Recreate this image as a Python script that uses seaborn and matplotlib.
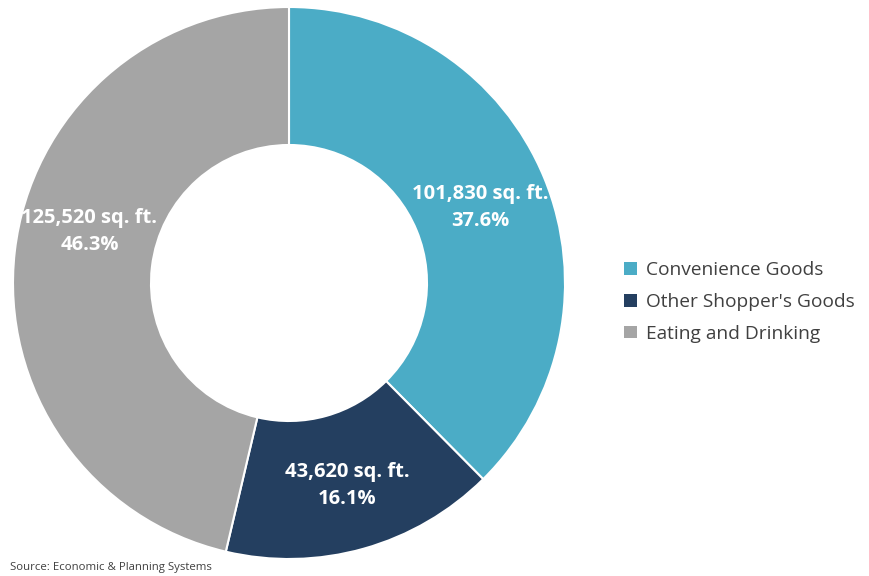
import matplotlib
matplotlib.use("Agg")
import matplotlib.pyplot as plt
import seaborn as sns
from matplotlib.patches import Patch

categories = ["Convenience Goods", "Other Shopper's Goods", "Eating and Drinking"]
sqft = [101830, 43620, 125520]
pct_labels = ["37.6%", "16.1%", "46.3%"]
colors = ["#4BACC6", "#243F60", "#A5A5A5"]

sns.set_theme(style="white")
plt.rcParams['font.family'] = ['Open Sans', 'DejaVu Sans']
palette = sns.color_palette(colors)

fig = plt.figure(figsize=(8.69, 5.76), dpi=100)
ax = fig.add_axes([0, 0, 1, 1])

labels = [f"{v:,} sq. ft.\n{p}" for v, p in zip(sqft, pct_labels)]
wedges, texts = ax.pie(
    sqft, colors=palette, startangle=90, counterclock=False,
    center=(289, 293), radius=276, labels=labels, labeldistance=0.75,
    wedgeprops=dict(width=138, edgecolor="white", linewidth=1.5),
    textprops=dict(color="white", fontsize=14.5, fontweight="bold"),
    frame=True,
)
ax.set_xlim(0, 869)
ax.set_ylim(0, 576)
ax.set_aspect("equal")
ax.axis("off")
shifts = [(0, -3), (2, -3), (6, 28)]
for t, (dx, dy) in zip(texts, shifts):
    x, y = t.get_position()
    t.set_position((x + dx, y + dy))
    t.set_ha("center")
    t.set_va("center")
    t.set_multialignment("center")
    t.set_linespacing(1.45)

handles = [Patch(facecolor=c, edgecolor="none") for c in palette]
leg = ax.legend(handles, categories, loc="center left", bbox_to_anchor=(607/869, 0.5 - 14/576),
                frameon=False, fontsize=13.8, handlelength=0.65, handleheight=0.65,
                handletextpad=0.5, labelspacing=0.72, labelcolor="#404040")

fig.text(10/869, 3/576, "Source: Economic & Planning Systems", fontsize=8.2, color="#404040",
         ha="left", va="bottom")

fig.savefig("out.png", dpi=100)
